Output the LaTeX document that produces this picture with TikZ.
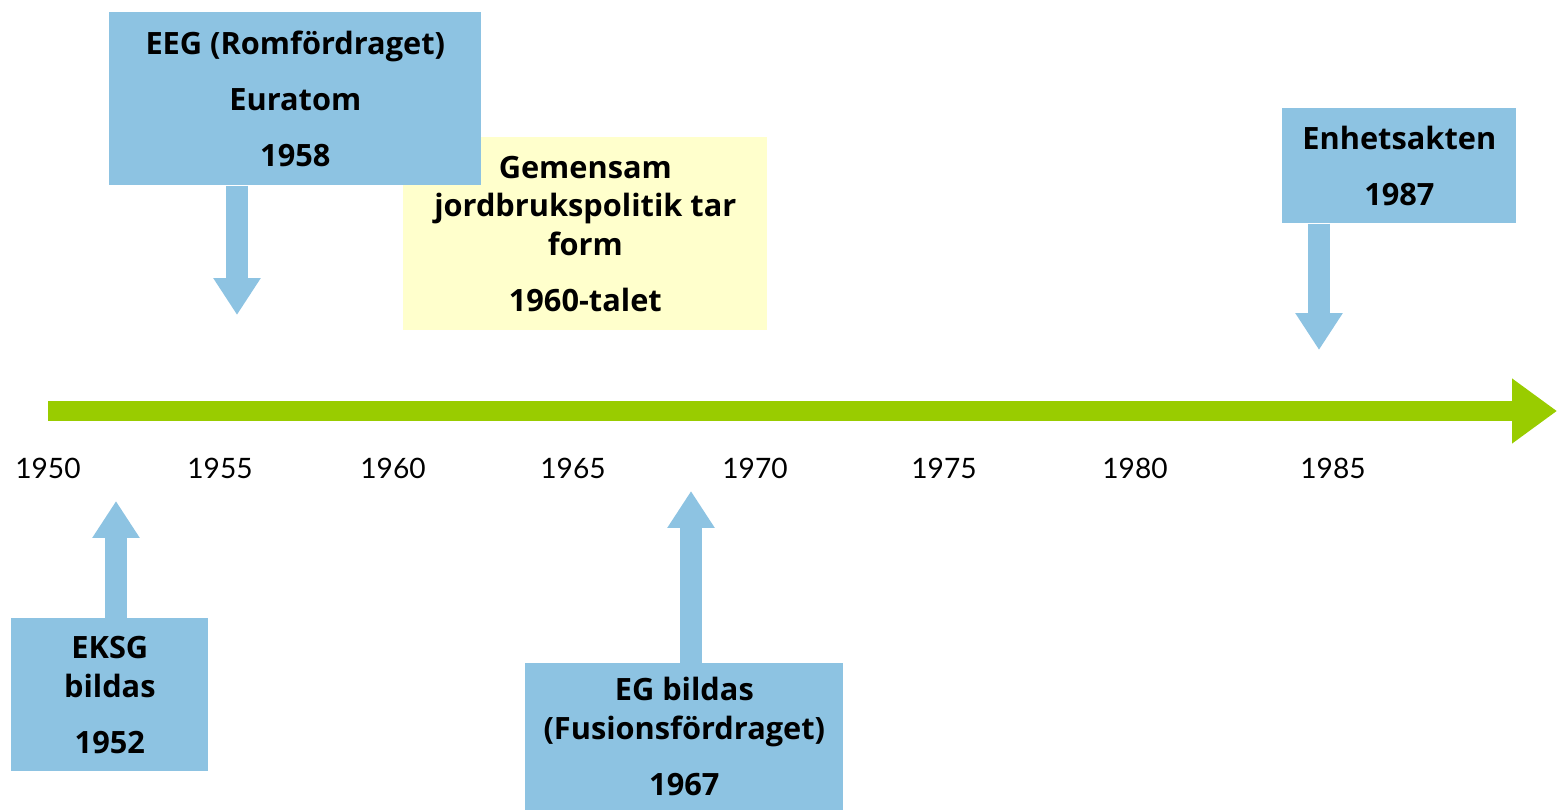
\documentclass[tikz,border=0pt]{standalone}
\usepackage{fontspec}
\setmainfont{Lato}
\newfontfamily\boxfont{Open Sans}
\usetikzlibrary{arrows.meta,positioning}
\definecolor{boxBlue}{RGB}{141,195,226}
\definecolor{lineGreen}{RGB}{153,204,0}
\definecolor{noteYellow}{RGB}{255,255,204}

\begin{document}
\begin{tikzpicture}[x=0.02cm,y=-0.02cm,
	EventBox/.style={rectangle,fill=boxBlue,anchor=north west,inner sep=0pt,align=center,font=\boxfont\fontsize{17.5}{22}\selectfont\bfseries},
	NoteBox/.style={EventBox,fill=noteYellow},
	Year/.style={font=\fontsize{16}{20}\selectfont},
	BlockArrow/.style={-{Triangle[width=0.9cm,length=0.74cm]},boxBlue,line width=0.44cm},
	TimeLine/.style={-{Triangle[width=1.24cm,length=0.9cm]},lineGreen,line width=0.42cm},
]
	\useasboundingbox (0,0) rectangle (1557,810);

	% timeline
	\coordinate (lineStart) at (48,411);
	\coordinate (lineEnd) at (1557,411);
	\draw[TimeLine] (lineStart) -- (lineEnd);
	\foreach \yr/\xpos in {1950/48,1955/220,1960/393,1965/573,1970/755,1975/944,1980/1135,1985/1333}
		\node[Year] (year\yr) at (\xpos,468) {\yr};

	% boxes
	\node[NoteBox,minimum width=7.28cm,minimum height=3.86cm] (jordbruk) at (403,137)
		{Gemensam\\jordbrukspolitik tar\\form\\[10pt]1960-talet};
	\node[EventBox,minimum width=7.44cm,minimum height=3.46cm] (eeg) at (109,12)
		{EEG (Romfördraget)\\[10pt]Euratom\\[10pt]1958};
	\node[EventBox,minimum width=4.68cm,minimum height=2.3cm] (enhet) at (1282,108)
		{Enhetsakten\\[10pt]1987};
	\node[EventBox,minimum width=3.94cm,minimum height=3.06cm] (eksg) at (11,618)
		{EKSG\\bildas\\[10pt]1952};
	\node[EventBox,minimum width=6.36cm,minimum height=2.94cm] (eg) at (525,663)
		{EG bildas\\(Fusionsfördraget)\\[10pt]1967};

	% arrows
	\coordinate (eegTip) at (237,315);
	\coordinate (enhetTip) at (1319,350);
	\coordinate (eksgTip) at (116,501);
	\coordinate (egTip) at (691,491);
	\draw[BlockArrow] (eeg.south -| eegTip) -- (eegTip);
	\draw[BlockArrow] (enhet.south -| enhetTip) -- (enhetTip);
	\draw[BlockArrow] (eksg.north -| eksgTip) -- (eksgTip);
	\draw[BlockArrow] (eg.north -| egTip) -- (egTip);
\end{tikzpicture}
\end{document}
